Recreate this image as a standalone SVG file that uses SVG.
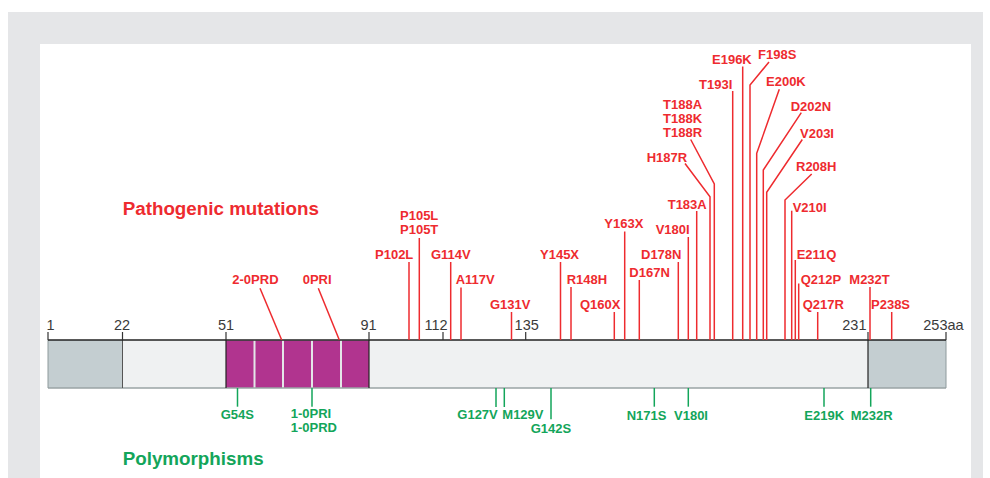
<svg xmlns="http://www.w3.org/2000/svg" width="990" height="478" viewBox="0 0 990 478">
<style>
.r{font-family:"Liberation Sans",Arial,sans-serif;font-weight:bold;font-size:13px;fill:#ee2b2f}
.g{font-family:"Liberation Sans",Arial,sans-serif;font-weight:bold;font-size:13px;fill:#13a55a}
.n{font-family:"Liberation Sans",Arial,sans-serif;font-size:14.5px;fill:#3a3a3a}
.t{font-family:"Liberation Sans",Arial,sans-serif;font-weight:bold;font-size:18.8px}
.rl{stroke:#ee2b2f;stroke-width:1.5;fill:none}
.gl{stroke:#13a55a;stroke-width:1.5;fill:none}
.tk{stroke:#333;stroke-width:1.2}
.oct{fill:#b1348f}
</style>
<rect x="0" y="0" width="990" height="478" fill="#ffffff"/>
<rect x="8" y="12" width="975" height="466" fill="#e5e6e8"/>
<rect x="40" y="44" width="931" height="434" fill="#ffffff"/>

<g id="titles">
<text class="t" x="122.7" y="215" fill="#ee2b2f">Pathogenic mutations</text>
<text class="t" x="122.7" y="465" fill="#13a55a">Polymorphisms</text>
</g>

<g id="bar">
<rect x="48" y="340" width="74.5" height="48" fill="#c4ced1"/>
<rect x="122.5" y="340" width="103.5" height="48" fill="#eff1f2"/>
<rect x="369" y="340" width="499" height="48" fill="#eff1f2"/>
<rect x="868" y="340" width="78" height="48" fill="#c4ced1"/>
<rect x="226" y="340" width="143" height="48" fill="#e4e6e8"/>
<rect class="oct" x="226" y="340.5" width="27.5" height="47.5"/>
<rect class="oct" x="255.5" y="340.5" width="26.5" height="47.5"/>
<rect class="oct" x="284" y="340.5" width="27" height="47.5"/>
<rect class="oct" x="313" y="340.5" width="27" height="47.5"/>
<rect class="oct" x="342" y="340.5" width="27" height="47.5"/>
<line x1="48" y1="388" x2="946" y2="388" stroke="#9aa3a5" stroke-width="1.5"/>
<line x1="48" y1="340" x2="48" y2="388" stroke="#8e9a9c" stroke-width="1"/>
<line x1="946" y1="340" x2="946" y2="388" stroke="#8e9a9c" stroke-width="1"/>
<line x1="122.5" y1="340" x2="122.5" y2="388" stroke="#555" stroke-width="1"/>
<line x1="226" y1="340" x2="226" y2="388" stroke="#222" stroke-width="1.2"/>
<line x1="369" y1="340" x2="369" y2="388" stroke="#222" stroke-width="1.2"/>
<line x1="868" y1="340" x2="868" y2="388" stroke="#222" stroke-width="1.2"/>
<line x1="48" y1="340" x2="946" y2="340" stroke="#222" stroke-width="1.3"/>
</g>

<g id="scale">
<line class="tk" x1="48" y1="332" x2="48" y2="340"/>
<line class="tk" x1="122.5" y1="332" x2="122.5" y2="340"/>
<line class="tk" x1="226" y1="332" x2="226" y2="340"/>
<line class="tk" x1="369" y1="332" x2="369" y2="340"/>
<line class="tk" x1="443" y1="332" x2="443" y2="340"/>
<line class="tk" x1="525.7" y1="332" x2="525.7" y2="340"/>
<line class="tk" x1="868" y1="332" x2="868" y2="340"/>
<line class="tk" x1="946" y1="332" x2="946" y2="340"/>
<text class="n" x="46.5" y="329.5">1</text>
<text class="n" x="122" y="329.5" text-anchor="middle">22</text>
<text class="n" x="226" y="329.5" text-anchor="middle">51</text>
<text class="n" x="368.5" y="329.5" text-anchor="middle">91</text>
<text class="n" x="436" y="329.5" text-anchor="middle">112</text>
<text class="n" x="526.7" y="329.5" text-anchor="middle">135</text>
<text class="n" x="866.5" y="329.5" text-anchor="end">231</text>
<text class="n" x="923.3" y="329.5">253aa</text>
</g>

<g id="connectors">
<line class="rl" x1="409" y1="262" x2="409" y2="340"/>
<line class="rl" x1="419.3" y1="238" x2="419.3" y2="340"/>
<line class="rl" x1="450.7" y1="262" x2="450.7" y2="340"/>
<line class="rl" x1="461" y1="287.5" x2="461" y2="340"/>
<line class="rl" x1="511.5" y1="312" x2="511.5" y2="340"/>
<line class="rl" x1="560.5" y1="262" x2="560.5" y2="340"/>
<line class="rl" x1="571" y1="287" x2="571" y2="340"/>
<line class="rl" x1="614.3" y1="312" x2="614.3" y2="340"/>
<line class="rl" x1="624.7" y1="231.5" x2="624.7" y2="340"/>
<line class="rl" x1="639.3" y1="280" x2="639.3" y2="340"/>
<line class="rl" x1="678.3" y1="262" x2="678.3" y2="340"/>
<line class="rl" x1="688.3" y1="237" x2="688.3" y2="340"/>
<line class="rl" x1="696.7" y1="211" x2="696.7" y2="340"/>
<polyline class="rl" points="685,163.5 710,196.7 710,340"/>
<polyline class="rl" points="690.7,139.5 714.3,184 714.3,340"/>
<line class="rl" x1="732.7" y1="91" x2="732.7" y2="340"/>
<line class="rl" x1="742.7" y1="66.5" x2="742.7" y2="340"/>
<polyline class="rl" points="769,62 750,85 750,340"/>
<polyline class="rl" points="779.3,89.3 756.7,153.3 756.7,340"/>
<polyline class="rl" points="801.3,112.7 763.3,170 763.3,340"/>
<polyline class="rl" points="802.3,139.5 766.7,192.3 766.7,340"/>
<polyline class="rl" points="811.7,174 785,200 785,340"/>
<line class="rl" x1="791.7" y1="210.7" x2="791.7" y2="340"/>
<line class="rl" x1="795.3" y1="260" x2="795.3" y2="340"/>
<line class="rl" x1="798.7" y1="283.5" x2="798.7" y2="340"/>
<line class="rl" x1="817.7" y1="312" x2="817.7" y2="340"/>
<line class="rl" x1="870" y1="287" x2="870" y2="340"/>
<line class="rl" x1="891.7" y1="312" x2="891.7" y2="340"/>
<polyline class="rl" points="260,288.3 281.7,340"/>
<polyline class="rl" points="318.3,288.3 339.3,340"/>
<line class="gl" x1="237.5" y1="388" x2="237.5" y2="406.7"/>
<line class="gl" x1="312" y1="388" x2="312" y2="406.7"/>
<line class="gl" x1="496" y1="388" x2="496" y2="407"/>
<line class="gl" x1="504.3" y1="388" x2="504.3" y2="407"/>
<line class="gl" x1="551" y1="388" x2="551" y2="419.3"/>
<line class="gl" x1="654.3" y1="388" x2="654.3" y2="406.7"/>
<line class="gl" x1="688.3" y1="388" x2="688.3" y2="406.7"/>
<line class="gl" x1="824" y1="388" x2="824" y2="406.7"/>
<line class="gl" x1="870.7" y1="388" x2="870.7" y2="406.7"/>
</g>

<g id="pathogenic-labels">
<text class="r" x="375" y="259">P102L</text>
<text class="r" x="400" y="219.5">P105L</text>
<text class="r" x="400" y="234">P105T</text>
<text class="r" x="431" y="259">G114V</text>
<text class="r" x="455.7" y="284">A117V</text>
<text class="r" x="490" y="309">G131V</text>
<text class="r" x="540" y="259">Y145X</text>
<text class="r" x="566.7" y="284">R148H</text>
<text class="r" x="580" y="309.3">Q160X</text>
<text class="r" x="604.3" y="227.7">Y163X</text>
<text class="r" x="629.3" y="277.3">D167N</text>
<text class="r" x="641" y="259">D178N</text>
<text class="r" x="655.7" y="234.3">V180I</text>
<text class="r" x="667.7" y="209">T183A</text>
<text class="r" x="646.7" y="161.7">H187R</text>
<text class="r" x="663" y="109.3">T188A</text>
<text class="r" x="663" y="123.3">T188K</text>
<text class="r" x="663" y="137.3">T188R</text>
<text class="r" x="699" y="89">T193I</text>
<text class="r" x="712" y="64">E196K</text>
<text class="r" x="758" y="59">F198S</text>
<text class="r" x="766" y="85.7">E200K</text>
<text class="r" x="790.7" y="111">D202N</text>
<text class="r" x="800" y="138.3">V203I</text>
<text class="r" x="796" y="170.7">R208H</text>
<text class="r" x="792.7" y="211.7">V210I</text>
<text class="r" x="796.7" y="259">E211Q</text>
<text class="r" x="800.7" y="284.3">Q212P</text>
<text class="r" x="802.7" y="309.3">Q217R</text>
<text class="r" x="849.3" y="284.3">M232T</text>
<text class="r" x="871" y="309.3">P238S</text>
<text class="r" x="232.3" y="284.3">2-0PRD</text>
<text class="r" x="302.7" y="284.3">0PRI</text>
</g>

<g id="polymorphism-labels">
<text class="g" x="220.7" y="418.5">G54S</text>
<text class="g" x="290.7" y="418">1-0PRI</text>
<text class="g" x="290.7" y="432.3">1-0PRD</text>
<text class="g" x="457.3" y="419.3">G127V</text>
<text class="g" x="502.3" y="419.3">M129V</text>
<text class="g" x="530.7" y="433.3">G142S</text>
<text class="g" x="626.7" y="420">N171S</text>
<text class="g" x="674" y="420">V180I</text>
<text class="g" x="804.3" y="420">E219K</text>
<text class="g" x="850.7" y="420">M232R</text>
</g>
</svg>
